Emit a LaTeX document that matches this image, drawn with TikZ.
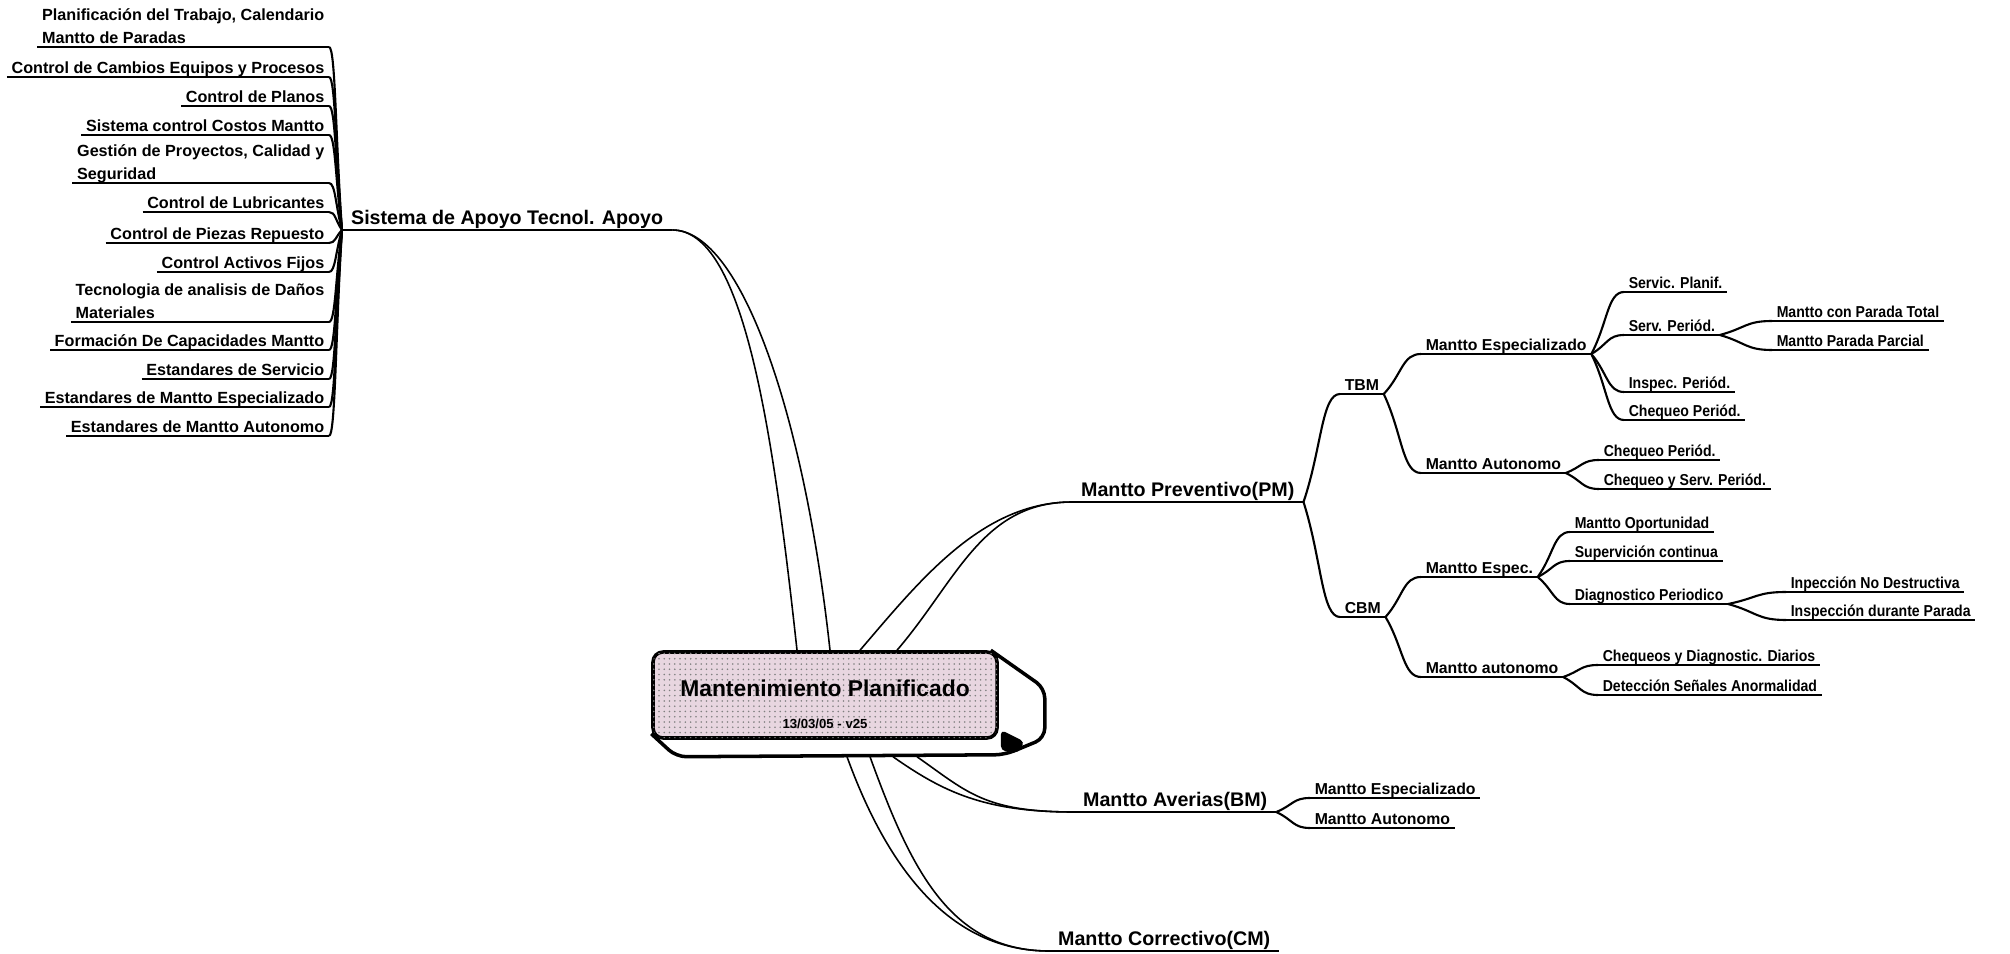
\documentclass[tikz,border=0pt]{standalone}
\usepackage{fontspec}
\setmainfont{Liberation Sans}
\newfontfamily\narrowfont{Liberation Sans}[FakeStretch=0.89]
\usepackage{tikz}
\usetikzlibrary{calc,patterns,positioning}

\definecolor{hubpink}{RGB}{232,214,224}
\newcommand{\leaffont}{\fontsize{9}{12.5}\selectfont\bfseries}
\newcommand{\listfont}{\fontsize{9.2}{12.8}\selectfont\bfseries}
\newcommand{\twigfont}{\narrowfont\fontsize{9}{11}\selectfont\bfseries}
\newcommand{\branchfont}{\fontsize{11.2}{13}\selectfont\bfseries}

\tikzstyle{uline} = [append after command={\pgfextra{\draw[line width=1.2pt] (\tikzlastnode.south west) -- (\tikzlastnode.south east);}}]
\tikzstyle{branch} = [anchor=south west, font=\branchfont, inner xsep=5pt, inner ysep=3pt, text depth=0pt, uline]
\tikzstyle{leafr} = [anchor=south west, font=\leaffont, inner xsep=2.5pt, inner ysep=2pt, text depth=0pt, uline]
\tikzstyle{subleaf} = [anchor=south west, font=\twigfont, inner xsep=2.5pt, inner ysep=2pt, text depth=0pt, uline]
\tikzstyle{leafl} = [anchor=south east, font=\listfont, inner xsep=2.5pt, inner ysep=2pt, text depth=0pt, uline]
\tikzstyle{hubbox} = [rectangle, rounded corners=2mm, minimum width=68.8mm, minimum height=17.2mm, draw=black, line width=2pt, fill=hubpink, postaction={pattern=dots, pattern color=black!50}, align=center, inner sep=0pt, font=\fontsize{13}{15}\selectfont\bfseries]
\tikzstyle{link} = [line width=1.2pt]
\tikzstyle{wedge} = [line width=0.9pt]
\tikzstyle{twig} = [to path={.. controls ($(\tikztostart)!0.5!(\tikztotarget)$) and ($(\tikztostart|-\tikztotarget)!0.5!(\tikztotarget)$) .. (\tikztotarget)}]

\begin{document}
\begin{tikzpicture}[x=0.2mm, y=-0.2mm]
\useasboundingbox (0,0) rectangle (2010,954);

% Hub
\node (hub) [hubbox] at (825,695) {\rule{0pt}{20pt}Mantenimiento Planificado\\[3.5pt]{\fontsize{7.5}{9}\selectfont 13/03/05 - v25}};
\draw [line width=2pt, rounded corners=2mm] ([shift={(-8,0)}]hub.north east) -- ([shift={(46,38)}]hub.north east) -- ([shift={(46,88)}]hub.north east) -- ([shift={(6,15)}]hub.south east) -- ([shift={(25,17)}]hub.south west) -- ([shift={(0,-6)}]hub.south west);
\fill [rounded corners=1mm] ([shift={(2,-10)}]hub.south east) -- ([shift={(26,2)}]hub.south east) -- ([shift={(20,13)}]hub.south east) -- ([shift={(2,11)}]hub.south east) -- cycle;

% Main branches
\node (apoyo) [branch] at (342,230) {Sistema de Apoyo Tecnol. Apoyo};
\node (pm) [branch] at (1072,502) {Mantto Preventivo(PM)};
\node (bm) [branch] at (1074,812) {Mantto Averias(BM)};
\node (cm) [branch] at (1049,951) {Mantto Correctivo(CM)};

% Apoyo topics
\node (plan) [leafl, align=left] at (329,47) {Planificación del Trabajo, Calendario\\Mantto de Paradas};
\node (cambios) [leafl] at (329,77) {Control de Cambios Equipos y Procesos};
\node (planos) [leafl] at (329,106) {Control de Planos};
\node (costos) [leafl] at (329,135) {Sistema control Costos Mantto};
\node (gestion) [leafl, align=left] at (329,183) {Gestión de Proyectos, Calidad y\\Seguridad};
\node (lubric) [leafl] at (329,212) {Control de Lubricantes};
\node (piezas) [leafl] at (329,243) {Control de Piezas Repuesto};
\node (activos) [leafl] at (329,272) {Control Activos Fijos};
\node (danos) [leafl, align=left] at (329,322) {Tecnologia de analisis de Daños\\Materiales};
\node (formacion) [leafl] at (329,350) {Formación De Capacidades Mantto};
\node (stdserv) [leafl] at (329,379) {Estandares de Servicio};
\node (stdesp) [leafl] at (329,407) {Estandares de Mantto Especializado};
\node (stdauto) [leafl] at (329,436) {Estandares de Mantto Autonomo};

% Preventivo topics
\node (tbm) [leafr] at (1340,394) {TBM};
\node (cbm) [leafr] at (1340,617) {CBM};
\node (tespec) [leafr] at (1421,354) {Mantto Especializado};
\node (tauto) [leafr] at (1421,473) {Mantto Autonomo};
\node (cespec) [leafr] at (1421,577) {Mantto Espec.};
\node (cauto) [leafr] at (1421,677) {Mantto autonomo};
\node (servplan) [subleaf] at (1624,292) {Servic. Planif.};
\node (servper) [subleaf] at (1624,335) {Serv. Periód.};
\node (inspper) [subleaf] at (1624,392) {Inspec. Periód.};
\node (cheqper) [subleaf] at (1624,420) {Chequeo Periód.};
\node (paradatot) [subleaf] at (1772,321) {Mantto con Parada Total};
\node (paradapar) [subleaf] at (1772,350) {Mantto Parada Parcial};
\node (cheqper2) [subleaf] at (1599,460) {Chequeo Periód.};
\node (cheqserv) [subleaf] at (1599,489) {Chequeo y Serv. Periód.};
\node (oportun) [subleaf] at (1570,532) {Mantto Oportunidad};
\node (supervis) [subleaf] at (1570,561) {Supervición continua};
\node (diagper) [subleaf] at (1570,604) {Diagnostico Periodico};
\node (nodestr) [subleaf] at (1786,592) {Inpección No Destructiva};
\node (durparada) [subleaf] at (1786,620) {Inspección durante Parada};
\node (diarios) [subleaf] at (1598,665) {Chequeos y Diagnostic. Diarios};
\node (anormal) [subleaf] at (1598,695) {Detección Señales Anormalidad};

% Averias topics
\node (bmespec) [leafr] at (1310,798) {Mantto Especializado};
\node (bmauto) [leafr] at (1310,828) {Mantto Autonomo};

% Hub connectors
\draw [wedge] (apoyo.south east) .. controls +(70,0) and +(-25,-230) .. ([shift={(-28,0)}]hub.north);
\draw [wedge] (apoyo.south east) .. controls +(70,0) and +(-25,-230) .. ([shift={(5,0)}]hub.north);
\draw [wedge] ([shift={(35,0)}]hub.north) .. controls +(60,-70) and +(-90,0) .. (pm.south west);
\draw [wedge] ([shift={(72,0)}]hub.north) .. controls +(60,-70) and +(-90,0) .. (pm.south west);
\draw [wedge] ([shift={(68,17)}]hub.south) .. controls +(50,35) and +(-90,0) .. (bm.south west);
\draw [wedge] ([shift={(92,17)}]hub.south) .. controls +(50,35) and +(-90,0) .. (bm.south west);
\draw [wedge] ([shift={(22,17)}]hub.south) .. controls +(40,110) and +(-100,0) .. (cm.south west);
\draw [wedge] ([shift={(45,17)}]hub.south) .. controls +(40,110) and +(-100,0) .. (cm.south west);

% Apoyo fan
\draw [link] (apoyo.south west) to[twig] (plan.south east);
\draw [link] (apoyo.south west) to[twig] (cambios.south east);
\draw [link] (apoyo.south west) to[twig] (planos.south east);
\draw [link] (apoyo.south west) to[twig] (costos.south east);
\draw [link] (apoyo.south west) to[twig] (gestion.south east);
\draw [link] (apoyo.south west) to[twig] (lubric.south east);
\draw [link] (apoyo.south west) to[twig] (piezas.south east);
\draw [link] (apoyo.south west) to[twig] (activos.south east);
\draw [link] (apoyo.south west) to[twig] (danos.south east);
\draw [link] (apoyo.south west) to[twig] (formacion.south east);
\draw [link] (apoyo.south west) to[twig] (stdserv.south east);
\draw [link] (apoyo.south west) to[twig] (stdesp.south east);
\draw [link] (apoyo.south west) to[twig] (stdauto.south east);

% Preventivo fans
\draw [link] (pm.south east) to[twig] (tbm.south west);
\draw [link] (pm.south east) to[twig] (cbm.south west);
\draw [link] (tbm.south east) to[twig] (tespec.south west);
\draw [link] (tbm.south east) to[twig] (tauto.south west);
\draw [link] (cbm.south east) to[twig] (cespec.south west);
\draw [link] (cbm.south east) to[twig] (cauto.south west);
\draw [link] (tespec.south east) to[twig] (servplan.south west);
\draw [link] (tespec.south east) to[twig] (servper.south west);
\draw [link] (tespec.south east) to[twig] (inspper.south west);
\draw [link] (tespec.south east) to[twig] (cheqper.south west);
\draw [link] (servper.south east) to[twig] (paradatot.south west);
\draw [link] (servper.south east) to[twig] (paradapar.south west);
\draw [link] (tauto.south east) to[twig] (cheqper2.south west);
\draw [link] (tauto.south east) to[twig] (cheqserv.south west);
\draw [link] (cespec.south east) to[twig] (oportun.south west);
\draw [link] (cespec.south east) to[twig] (supervis.south west);
\draw [link] (cespec.south east) to[twig] (diagper.south west);
\draw [link] (diagper.south east) to[twig] (nodestr.south west);
\draw [link] (diagper.south east) to[twig] (durparada.south west);
\draw [link] (cauto.south east) to[twig] (diarios.south west);
\draw [link] (cauto.south east) to[twig] (anormal.south west);

% Averias fan
\draw [link] (bm.south east) to[twig] (bmespec.south west);
\draw [link] (bm.south east) to[twig] (bmauto.south west);

\end{tikzpicture}
\end{document}
